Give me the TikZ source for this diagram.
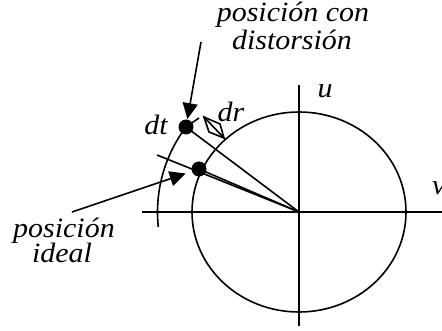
\documentclass[tikz,border=0pt]{standalone}
\usepackage{fontspec}
\setmainfont{Liberation Serif}
\usetikzlibrary{arrows.meta}
\begin{document}
\begin{tikzpicture}[x=1pt,y=-1pt,
  ln/.style={line width=1.6pt},
  dotn/.style={circle,fill=black,inner sep=0pt,minimum size=15pt},
  lbl/.style={font=\fontsize{28}{30}\selectfont\itshape,inner sep=0pt,anchor=base,xscale=1.07},
  arr/.style={ln,-{Triangle[length=16pt,width=15pt]}}]
\useasboundingbox (0,0) rectangle (442,331);
\coordinate (O) at (299,212);
% axes
\coordinate (xl) at (142,212);
\coordinate (xr) at (442,212);
\coordinate (yt) at (299,85);
\coordinate (yb) at (299,326);
\draw[ln] (xl) -- (xr);
\draw[ln] (yt) -- (yb);
% inner ellipse
\draw[ln] (O) ellipse [x radius=107pt, y radius=100pt];
% points
\coordinate (pdc) at (186,127);
\coordinate (pic) at (199,169);
% outer arc
\draw[ln] (pdc) arc[start angle=143, end angle=186, x radius=141.5pt, y radius=141.5pt];
% radial lines
\coordinate (ext) at (157,155);
\draw[ln] (O) -- (pdc);
\draw[ln] (O) -- (ext);
\draw[ln] (O) -- (pic);
% dt stub and dr diamond
\coordinate (stub) at (199,118);
\draw[ln] (pdc) -- (stub);
\coordinate (d1) at (204,117);
\coordinate (d2) at (209,132);
\coordinate (d3) at (224,138);
\coordinate (d4) at (220,124);
\draw[ln,line join=miter] (d1) -- (d2) -- (d3) -- (d4) -- cycle;
\draw[ln] (d1) -- (d3);
% dots
\node[dotn] (pd) at (pdc) {};
\node[dotn] (pi) at (pic) {};
% labels
\node[lbl] (t1) at (293,22) {posición con};
\node[lbl] (t2) at (292,50) {distorsión};
\node[lbl] (t3) at (64,238) {posición};
\node[lbl] (t4) at (62,262) {ideal};
\node[lbl] (u) at (325,98) {u};
\node[lbl] (dt) at (156,135) {dt};
\node[lbl] (dr) at (231,122) {dr};
\node[lbl,anchor=base west] (v) at (432,195) {v};
% arrows
\coordinate (a1) at (201,42);
\coordinate (a2) at (72,212);
\draw[arr,shorten >=8pt] (a1) -- (pd.center);
\draw[arr,shorten >=14pt] (a2) -- (pi.center);
\end{tikzpicture}
\end{document}
